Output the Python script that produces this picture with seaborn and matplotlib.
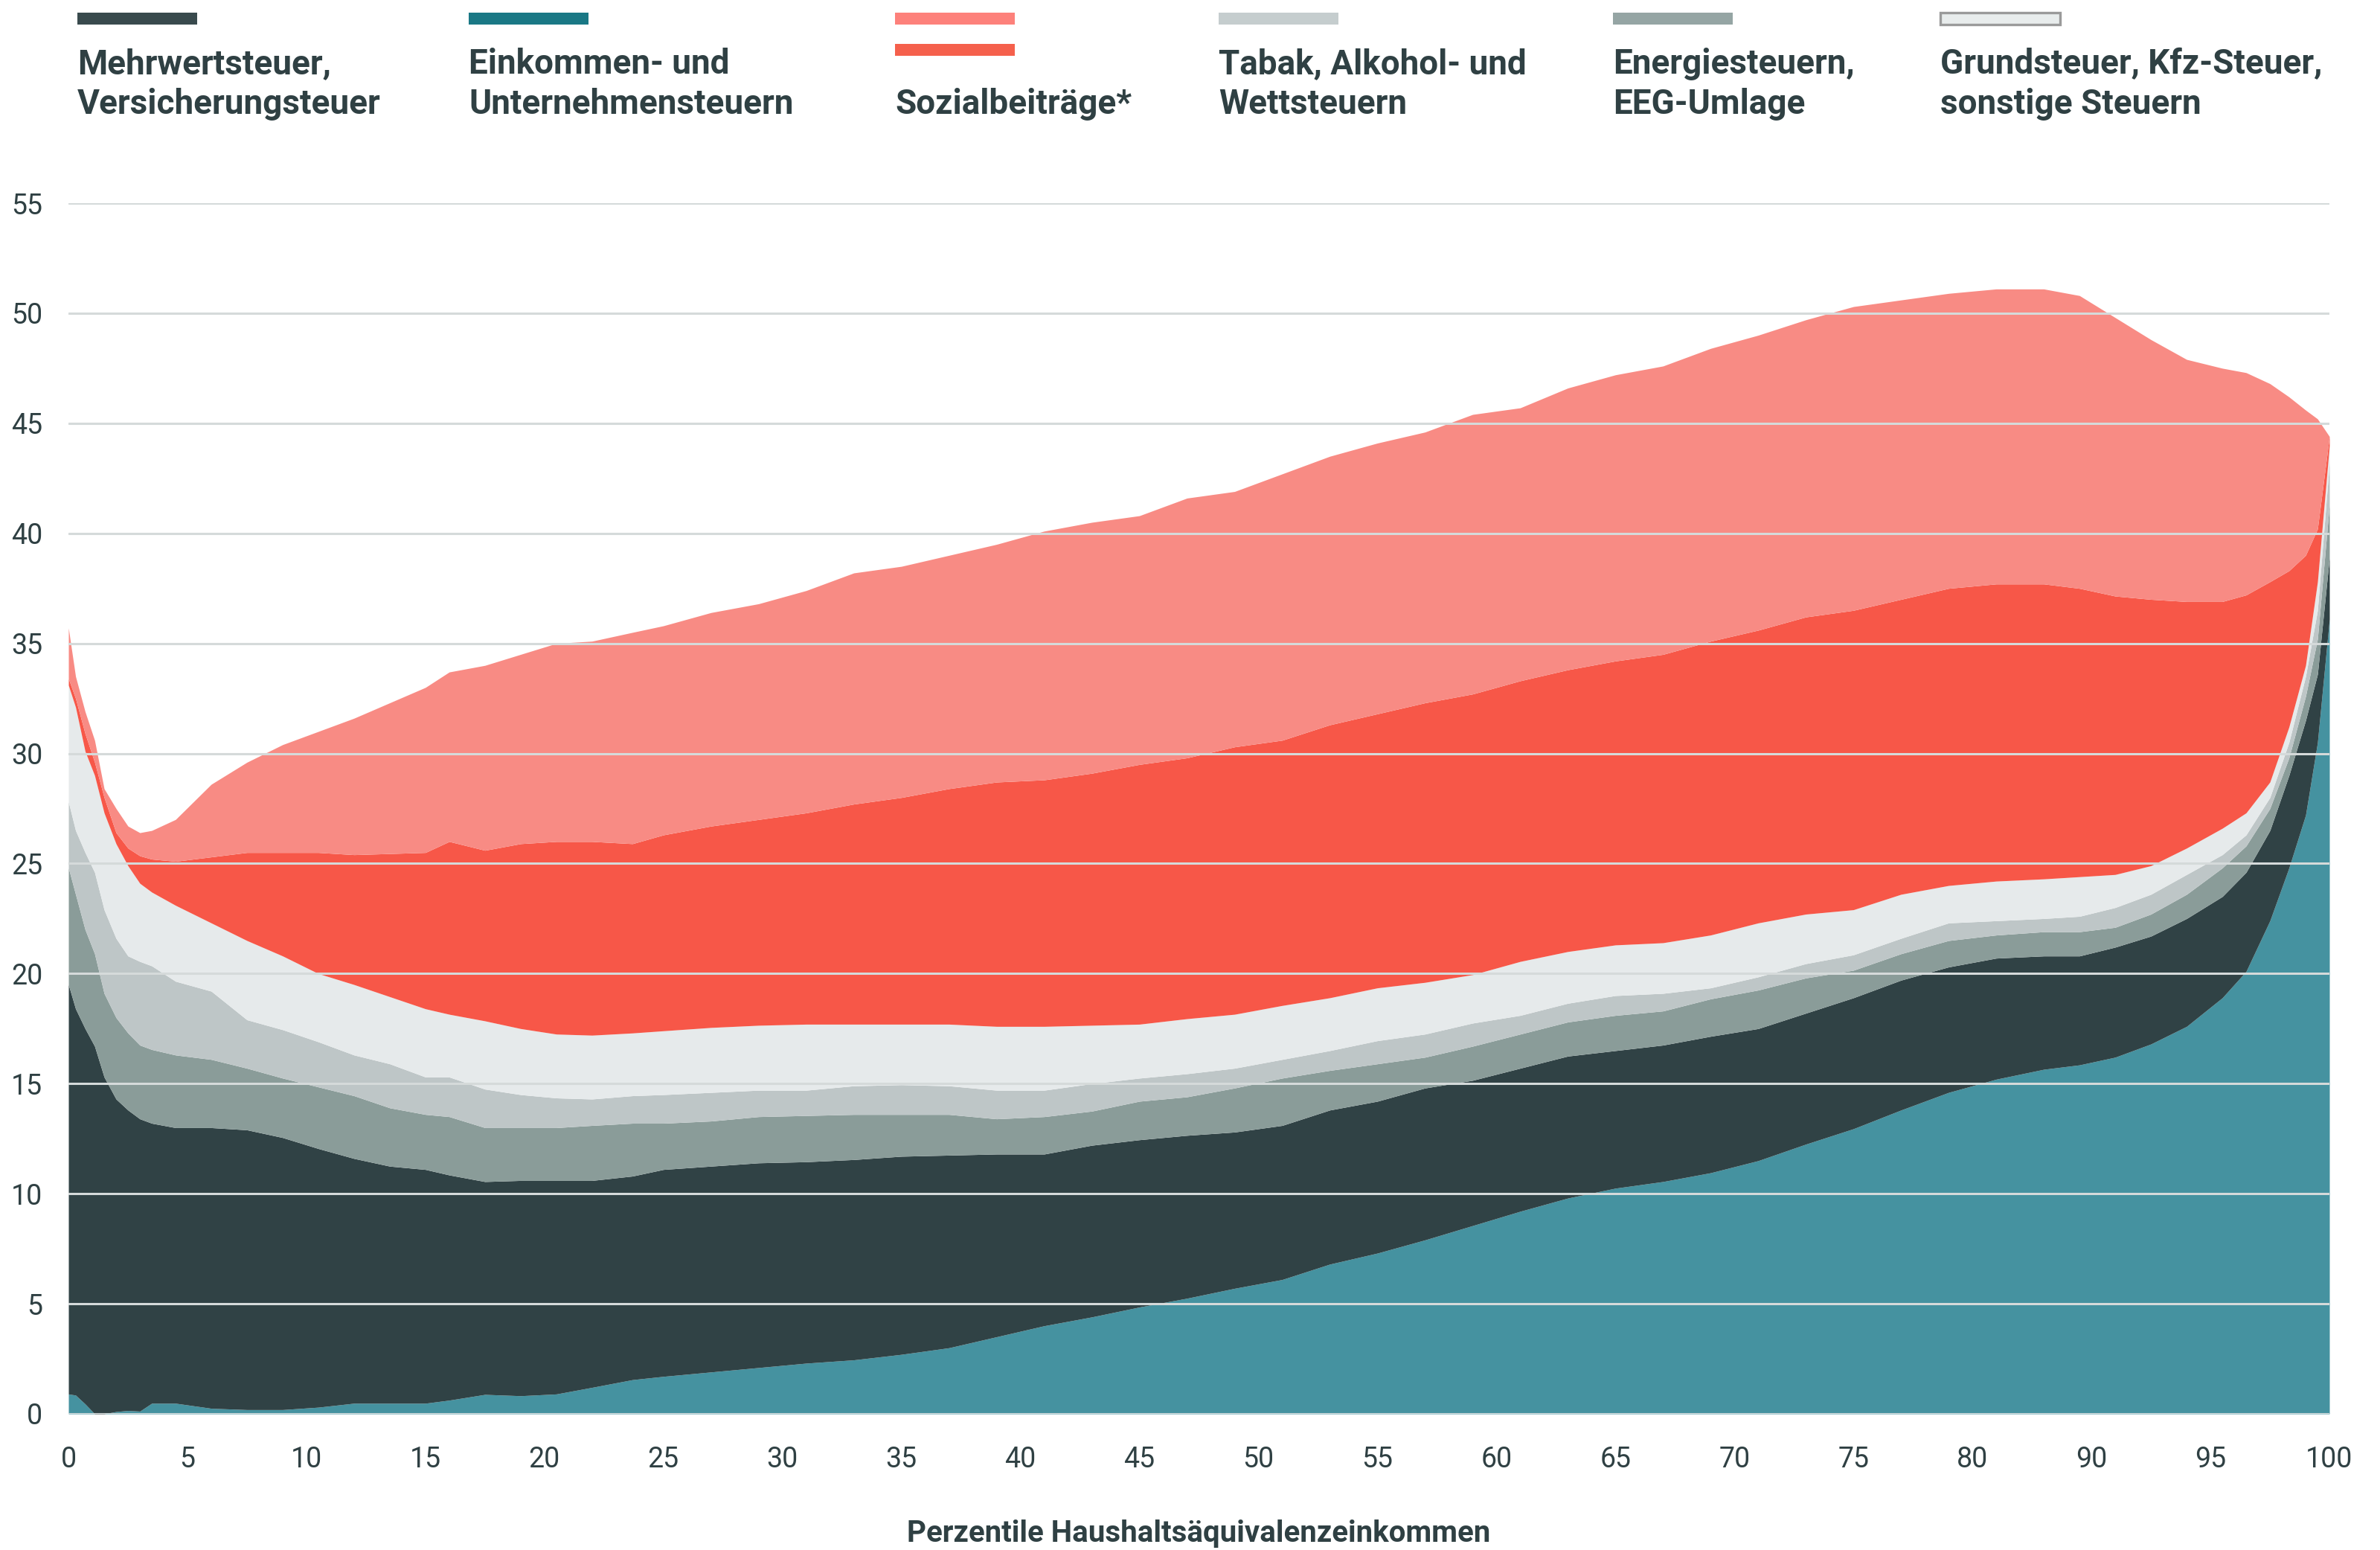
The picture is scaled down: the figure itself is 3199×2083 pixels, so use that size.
import matplotlib
matplotlib.use("Agg")
import matplotlib.pyplot as plt
from matplotlib.patches import Rectangle
import seaborn as sns

# percentile positions on the (evenly spaced) x axis
pct = [0, 0.3, 0.7, 1.1, 1.5, 2, 2.5, 3, 3.5, 4.5, 6, 7.5, 9, 10.5, 12, 13.5, 15, 16, 17.5, 19,
       20.5, 22, 23.7, 25, 27, 29, 31, 33, 35, 37, 39, 41, 43, 45, 47, 49, 51, 53, 55, 57,
       59, 61, 63, 65, 67, 69, 71, 73, 75, 77, 79, 81, 83, 84.5, 86, 87.5, 89, 90.5, 91.5, 92.5,
       93.3, 94, 94.5, 95]

# upper edge of each stacked band (cumulative share of income, %)
top_einkommen = [0.9, 0.85, 0.45, 0.0, 0.0, 0.1, 0.15, 0.12, 0.48, 0.48,
                 0.25, 0.19, 0.19, 0.3, 0.48, 0.48, 0.48, 0.62, 0.88, 0.82,
                 0.9, 1.2, 1.55, 1.7, 1.9, 2.1, 2.3, 2.45, 2.7, 3.0,
                 3.5, 4.0, 4.4, 4.85, 5.25, 5.7, 6.1, 6.8, 7.3, 7.9,
                 8.55, 9.2, 9.8, 10.25, 10.55, 10.95, 11.5, 12.25, 12.95, 13.8,
                 14.6, 15.2, 15.65, 15.85, 16.2, 16.8, 17.6, 18.9, 20.1, 22.4,
                 24.8, 27.2, 30.5, 36.1]
top_mwst = [19.5, 18.4, 17.5, 16.7, 15.3, 14.3, 13.8, 13.4, 13.2, 13.0,
            13.0, 12.9, 12.55, 12.05, 11.6, 11.25, 11.1, 10.85, 10.55, 10.6,
            10.6, 10.6, 10.8, 11.1, 11.25, 11.4, 11.45, 11.55, 11.7, 11.75,
            11.8, 11.8, 12.2, 12.45, 12.65, 12.8, 13.1, 13.8, 14.2, 14.8,
            15.15, 15.7, 16.25, 16.5, 16.75, 17.15, 17.5, 18.2, 18.9, 19.7,
            20.3, 20.7, 20.8, 20.8, 21.2, 21.7, 22.5, 23.5, 24.6, 26.5,
            29.0, 31.5, 33.6, 38.9]
top_energie = [24.8, 23.6, 22.0, 20.9, 19.1, 18.0, 17.3, 16.75, 16.55, 16.3,
               16.1, 15.7, 15.25, 14.85, 14.45, 13.9, 13.6, 13.5, 13.0, 13.0,
               13.0, 13.1, 13.2, 13.2, 13.3, 13.5, 13.55, 13.6, 13.6, 13.6,
               13.4, 13.5, 13.75, 14.2, 14.4, 14.8, 15.25, 15.6, 15.9, 16.2,
               16.7, 17.25, 17.8, 18.1, 18.3, 18.85, 19.25, 19.8, 20.15, 20.9,
               21.5, 21.75, 21.9, 21.9, 22.1, 22.7, 23.6, 24.8, 25.8, 27.5,
               29.8, 32.6, 35.2, 41.3]
top_tabak = [27.8, 26.5, 25.5, 24.6, 22.9, 21.6, 20.8, 20.55, 20.35, 19.65,
             19.2, 17.9, 17.45, 16.9, 16.3, 15.9, 15.3, 15.3, 14.75, 14.5,
             14.35, 14.3, 14.45, 14.5, 14.6, 14.7, 14.7, 14.9, 14.95, 14.9,
             14.7, 14.7, 15.0, 15.25, 15.45, 15.7, 16.1, 16.5, 16.95, 17.25,
             17.75, 18.1, 18.65, 19.0, 19.1, 19.35, 19.85, 20.45, 20.85, 21.6,
             22.3, 22.4, 22.5, 22.6, 23.0, 23.6, 24.5, 25.4, 26.3, 28.0,
             30.5, 33.5, 36.5, 43.2]
top_grund = [33.1, 32.1, 30.1, 29.0, 27.3, 25.9, 24.9, 24.1, 23.7, 23.1,
             22.3, 21.5, 20.8, 20.0, 19.5, 18.95, 18.4, 18.15, 17.85, 17.5,
             17.25, 17.2, 17.3, 17.4, 17.55, 17.65, 17.7, 17.7, 17.7, 17.7,
             17.6, 17.6, 17.65, 17.7, 17.95, 18.15, 18.55, 18.9, 19.35, 19.6,
             19.95, 20.55, 21.0, 21.3, 21.4, 21.75, 22.3, 22.7, 22.9, 23.6,
             24.0, 24.2, 24.3, 24.4, 24.5, 24.9, 25.7, 26.6, 27.3, 28.7,
             31.2, 34.0, 37.8, 44.0]
top_sozial_ag = [33.4, 32.5, 30.9, 29.6, 28.0, 26.4, 25.7, 25.35, 25.2, 25.1,
                 25.3, 25.5, 25.5, 25.5, 25.4, 25.45, 25.5, 26.0, 25.6, 25.9,
                 26.0, 26.0, 25.9, 26.3, 26.7, 27.0, 27.3, 27.7, 28.0, 28.4,
                 28.7, 28.8, 29.1, 29.5, 29.8, 30.3, 30.6, 31.3, 31.8, 32.3,
                 32.7, 33.3, 33.8, 34.2, 34.5, 35.1, 35.6, 36.2, 36.5, 37.0,
                 37.5, 37.7, 37.7, 37.5, 37.15, 37.0, 36.9, 36.9, 37.2, 37.8,
                 38.3, 39.0, 40.2, 44.4]
top_sozial_an = [35.7, 33.5, 31.9, 30.6, 28.4, 27.5, 26.7, 26.4, 26.5, 27.0,
                 28.6, 29.6, 30.4, 31.0, 31.6, 32.3, 33.0, 33.7, 34.0, 34.5,
                 35.0, 35.1, 35.5, 35.8, 36.4, 36.8, 37.4, 38.2, 38.5, 39.0,
                 39.5, 40.1, 40.5, 40.8, 41.6, 41.9, 42.7, 43.5, 44.1, 44.6,
                 45.4, 45.7, 46.6, 47.2, 47.6, 48.4, 49.0, 49.7, 50.3, 50.6,
                 50.9, 51.1, 51.1, 50.8, 49.8, 48.8, 47.9, 47.5, 47.3, 46.8,
                 46.2, 45.6, 45.2, 44.4]

xtick_pos = list(range(0, 100, 5))
xtick_labels = ["0", "5", "10", "15", "20", "25", "30", "35", "40", "45", "50",
                "55", "60", "65", "70", "75", "80", "90", "95", "100"]
yticks = list(range(0, 60, 5))

bands = [top_einkommen, top_mwst, top_energie, top_tabak, top_grund,
         top_sozial_ag, top_sozial_an]
band_colors = ["#4592a0", "#304245", "#8a9c99", "#bec6c7", "#e6eaeb",
               "#f75748", "#f88b84"]

text_col = "#2f4043"
grid_col = "#d5dada"

sns.set_theme(style="white")
plt.rcParams["font.family"] = ["Roboto", "DejaVu Sans"]

W, H = 3199, 2083
fig = plt.figure(figsize=(W / 200, H / 200), dpi=200)
ax = fig.add_axes([92 / W, 1 - 1900 / H, (3131 - 92) / W, (1900 - 273) / H])

lower = [0] * len(pct)
for upper, col in zip(bands, band_colors):
    ax.fill_between(pct, lower, upper, color=col, linewidth=0, zorder=2)
    lower = upper

for y in yticks:
    ax.axhline(y, color=grid_col, lw=1.1, zorder=3)

ax.set_xlim(0, 95)
ax.set_ylim(0, 55)
ax.set_xticks(xtick_pos)
ax.set_xticklabels(xtick_labels)
ax.set_yticks(yticks)
ax.tick_params(axis="x", length=6.5, width=0.7, color=grid_col, pad=9,
               labelsize=13.5, labelcolor=text_col)
ax.tick_params(axis="y", length=0, pad=12.5, labelsize=13.5, labelcolor=text_col)
sns.despine(ax=ax, left=True, bottom=True)

fig.text(1611 / W, 1 - 2061 / H, "Perzentile Haushaltsäquivalenzeinkommen",
         ha="center", va="center", fontsize=14.5, fontweight="bold", color=text_col)

# legend drawn by hand across the top
legend_x = [104, 630, 1203, 1638, 2168, 2608]
legend_lines = [["Mehrwertsteuer,", "Versicherungsteuer"],
                ["Einkommen- und", "Unternehmensteuern"],
                ["", "Sozialbeiträge*"],
                ["Tabak, Alkohol- und", "Wettsteuern"],
                ["Energiesteuern,", "EEG-Umlage"],
                ["Grundsteuer, Kfz-Steuer,", "sonstige Steuern"]]
legend_colors = ["#394a4d", "#1a7885", "#fd817b", "#c5cdce", "#95a5a4", "#e8ecec"]


def add_swatch(x, y, color, edge=None):
    r = Rectangle((x / W, 1 - (y + 16) / H), 161 / W, 16 / H, transform=fig.transFigure,
                  facecolor=color, edgecolor=edge if edge else color,
                  linewidth=1.2 if edge else 0)
    fig.add_artist(r)


for i, (x, lines, col) in enumerate(zip(legend_x, legend_lines, legend_colors)):
    add_swatch(x, 17, col, edge="#9a9a9a" if i == 5 else None)
    for j, line in enumerate(lines):
        fig.text(x / W, 1 - (99 + 54 * j) / H, line, ha="left", va="baseline",
                 fontsize=16.5, fontweight="bold", color=text_col)
add_swatch(1203, 59, "#f5604c")

fig.savefig("out.png", dpi=200)
